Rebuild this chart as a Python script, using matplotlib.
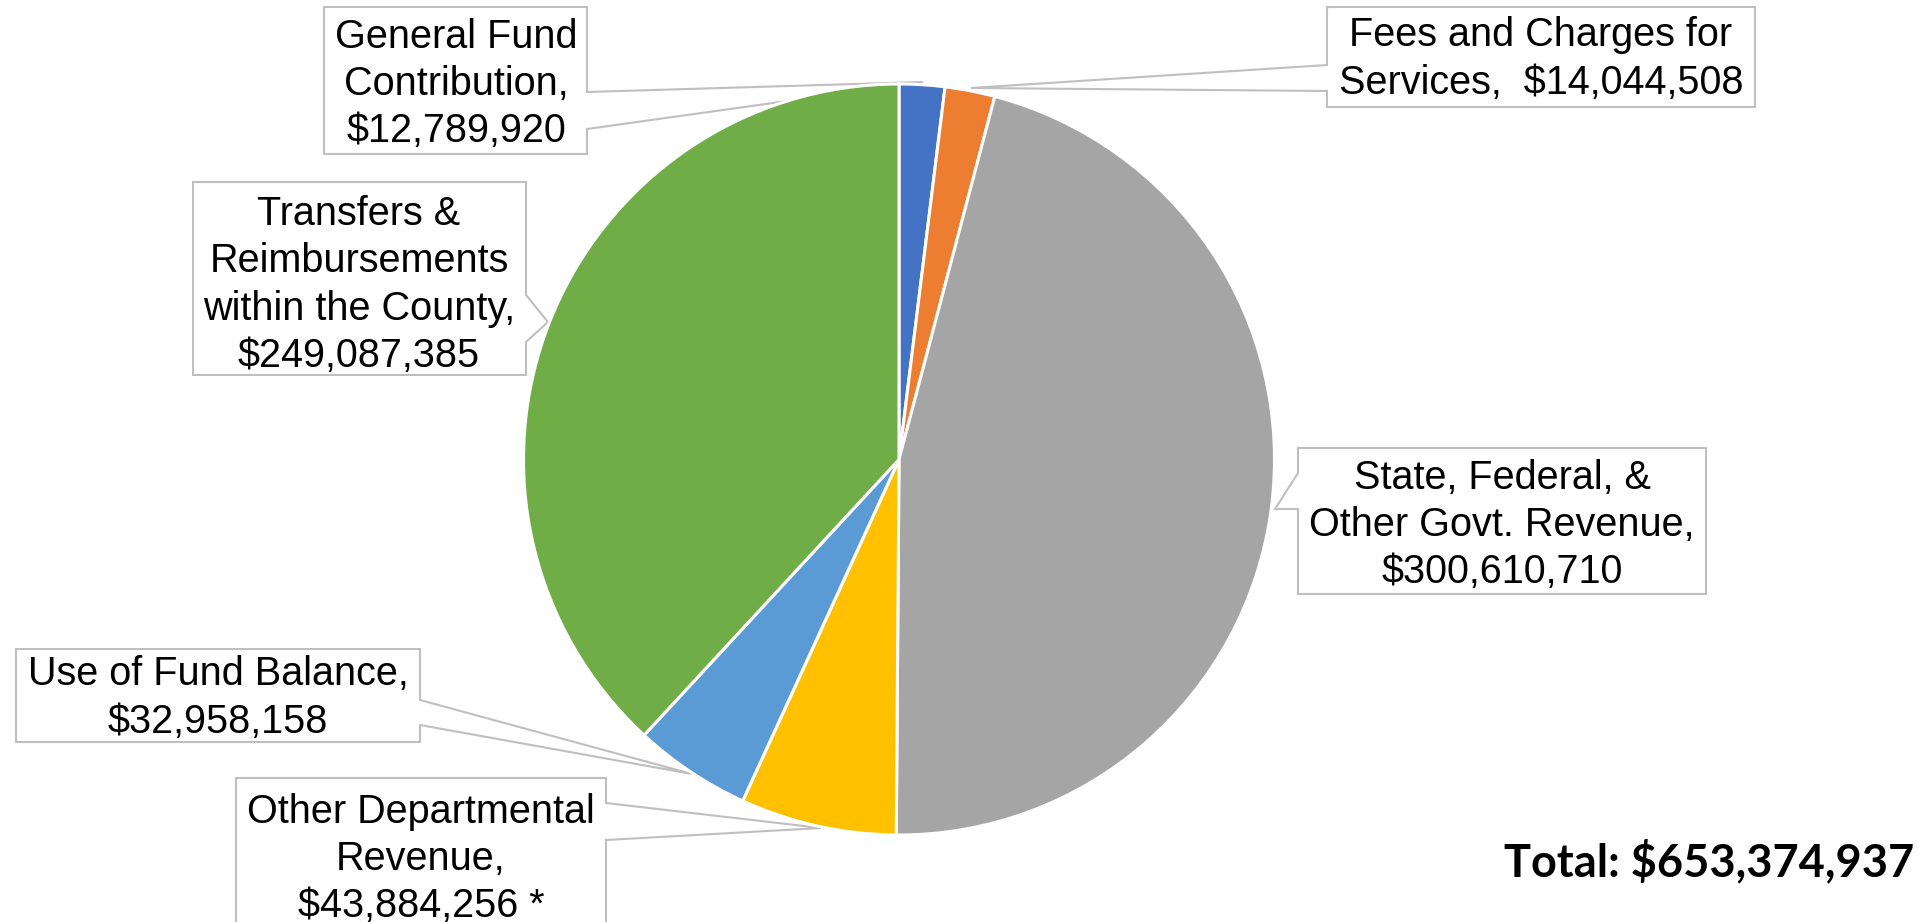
import matplotlib
matplotlib.use("Agg")
import matplotlib.pyplot as plt
from matplotlib.patches import Polygon

# ---- data ----
categories = [
    "General Fund Contribution",
    "Fees and Charges for Services",
    "State, Federal, & Other Govt. Revenue",
    "Other Departmental Revenue",
    "Use of Fund Balance",
    "Transfers & Reimbursements within the County",
]
values = [12789920, 14044508, 300610710, 43884256, 32958158, 249087385]
labels = [
    "General Fund\nContribution,\n$12,789,920",
    "Fees and Charges for\nServices,  $14,044,508",
    "State, Federal, &\nOther Govt. Revenue,\n$300,610,710",
    "Other Departmental\nRevenue,\n$43,884,256 *",
    "Use of Fund Balance,\n$32,958,158",
    "Transfers &\nReimbursements\nwithin the County,\n$249,087,385",
]
colors = ["#4472C4", "#ED7D31", "#A5A5A5", "#FFC000", "#5B9BD5", "#70AD47"]
total_text = "Total: ${:,}".format(sum(values))

# ---- layout (pixel coordinates, y downward) ----
W, H = 1931, 922
center = (899, 459.5)
radius = 375.5

# callout: box (l, t, r, b), side of notch, notch y's, tip point, text centre
callouts = [
    dict(box=(324, 7, 587, 154), side="right", notch=(92, 129), tip=(923, 82), tc=(456, 84)),
    dict(box=(1327, 7, 1755, 107), side="left", notch=(65, 91), tip=(971, 88), tc=(1541, 59)),
    dict(box=(1298, 448, 1706, 594), side="left", notch=(473, 509), tip=(1275, 509), tc=(1502, 525)),
    dict(box=(236, 778, 606, 940), side="right", notch=(803, 840), tip=(821, 828), tc=(421, 859)),
    dict(box=(16, 649, 420, 742), side="right", notch=(700, 725), tip=(692, 774), tc=(218, 698)),
    dict(box=(193, 182, 526, 375), side="right", notch=(295, 342), tip=(548, 322), tc=(359, 285)),
]

fig = plt.figure(figsize=(W / 100, H / 100), dpi=100)
ax = fig.add_axes([0, 0, 1, 1])

wedges, _ = ax.pie(
    values,
    colors=colors,
    startangle=270,
    counterclock=True,
    center=center,
    radius=radius,
    wedgeprops=dict(edgecolor="white", linewidth=2.2, zorder=3),
)

ax.set_xlim(0, W)
ax.set_ylim(H, 0)
ax.set_aspect("auto")
ax.axis("off")

for lab, c in zip(labels, callouts):
    l, t, r, b = c["box"]
    y1, y2 = c["notch"]
    tip = c["tip"]
    if c["side"] == "right":
        pts = [(l, t), (r, t), (r, y1), tip, (r, y2), (r, b), (l, b)]
    else:
        pts = [(l, t), (r, t), (r, b), (l, b), (l, y2), tip, (l, y1)]
    poly = Polygon(pts, closed=True, facecolor="white", edgecolor="#BFBFBF",
                   linewidth=1.5, zorder=1)
    ax.add_patch(poly)
    ax.text(c["tc"][0], c["tc"][1], lab, ha="center", va="center",
            fontsize=28.5, family="Liberation Sans", color="black",
            linespacing=1.31, zorder=5)

ax.text(1914, 876, total_text, ha="right", va="baseline", fontsize=32.5,
        family="Lato", fontweight="bold", color="black", zorder=5)

fig.savefig("out.png", dpi=100, facecolor="white")
